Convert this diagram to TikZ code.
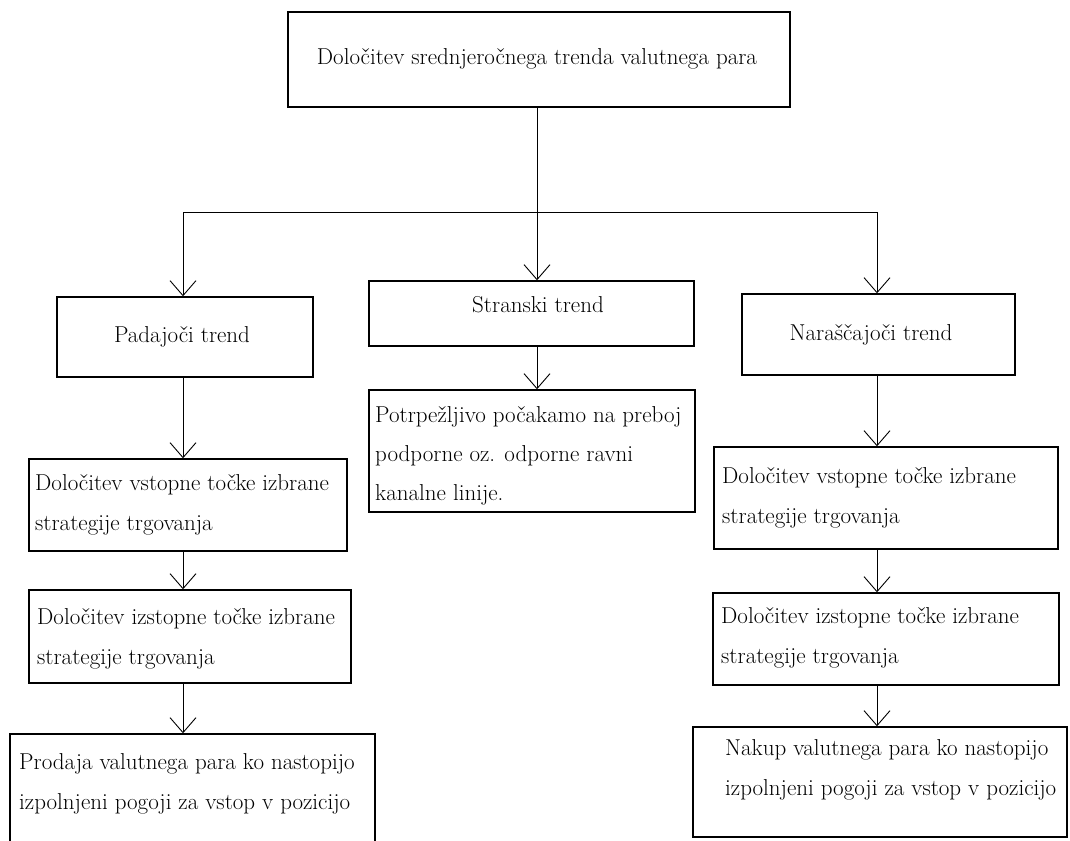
\documentclass[tikz,border=0pt]{standalone}
\usetikzlibrary{arrows.meta}
\begin{document}
\begin{tikzpicture}[x=1pt,y=-1pt,
  box/.style={draw, line width=1.4pt, rectangle, inner sep=0pt},
  conn/.style={line width=0.9pt},
  arr/.style={conn, -{Straight Barb[length=15pt,width=26pt,line width=0.9pt]}},
  txt/.style={inner sep=0pt, anchor=north west, align=left, font=\fontsize{23}{40}\selectfont},
  ctxt/.style={inner sep=0pt, anchor=base, font=\fontsize{23}{40}\selectfont}]
\useasboundingbox (0,0) rectangle (1070,840);
\clip (0,0) rectangle (1070,840);
% boxes
\node[box, minimum width=502pt, minimum height=95pt] (top) at (539,59.5) {};
\node[box, minimum width=256pt, minimum height=80pt] (pad) at (185,337) {};
\node[box, minimum width=325pt, minimum height=65pt] (str) at (531.5,313.5) {};
\node[box, minimum width=273pt, minimum height=81pt] (nar) at (878.5,334.5) {};
\node[box, minimum width=318pt, minimum height=92pt] (vstL) at (188,505) {};
\node[box, minimum width=322pt, minimum height=93pt] (izsL) at (190,636.5) {};
\node[box, minimum width=365pt, minimum height=116pt] (prod) at (192.5,792) {};
\node[box, minimum width=326pt, minimum height=122pt] (potr) at (532,451) {};
\node[box, minimum width=344pt, minimum height=102pt] (vstR) at (886,498) {};
\node[box, minimum width=346pt, minimum height=92pt] (izsR) at (886,639) {};
\node[box, minimum width=374pt, minimum height=110pt] (nak) at (880,782) {};
% texts
\node[ctxt] (t-top) at (537,65) {Določitev srednjeročnega trenda valutnega para};
\node[ctxt] (t-pad) at (182,342) {Padajoči trend};
\node[ctxt] (t-str) at (538,312) {Stranski trend};
\node[ctxt] (t-nar) at (871,340) {Naraščajoči trend};
\node[txt] (t-vstL) at (35,473) {\rule{0pt}{17pt}Določitev vstopne točke izbrane\\strategije trgovanja};
\node[txt] (t-izsL) at (37,607) {\rule{0pt}{17pt}Določitev izstopne točke izbrane\\strategije trgovanja};
\node[txt] (t-prod) at (19,752) {\rule{0pt}{17pt}Prodaja valutnega para ko nastopijo\\izpolnjeni pogoji za vstop v pozicijo};
\node[txt, font=\fontsize{23}{39}\selectfont] (t-potr) at (375,405) {\rule{0pt}{17pt}Potrpežljivo počakamo na preboj\\podporne oz. odporne ravni\\kanalne linije.};
\node[txt] (t-vstR) at (722,466) {\rule{0pt}{17pt}Določitev vstopne točke izbrane\\strategije trgovanja};
\node[txt] (t-izsR) at (721,606) {\rule{0pt}{17pt}Določitev izstopne točke izbrane\\strategije trgovanja};
\node[txt] (t-nak) at (725,738) {\rule{0pt}{17pt}Nakup valutnega para ko nastopijo\\izpolnjeni pogoji za vstop v pozicijo};
% connector helpers
\coordinate (colL) at (183,0);
\coordinate (colC) at (537,0);
\coordinate (colR) at (877,0);
\coordinate (brL) at (183,212);
\coordinate (brC) at (537,212);
\coordinate (brR) at (877,212);
% connectors
\draw[conn] (top.south -| colC) -- (brC);
\draw[conn] (brL) -- (brR);
\draw[arr] (brL) -- (pad.north -| brL);
\draw[arr] (brC) -- (str.north -| brC);
\draw[arr] (brR) -- (nar.north -| brR);
\draw[arr] (str.south -| colC) -- (potr.north -| colC);
\draw[arr] (pad.south -| colL) -- (vstL.north -| colL);
\draw[arr] (vstL.south -| colL) -- (izsL.north -| colL);
\draw[arr] (izsL.south -| colL) -- (prod.north -| colL);
\draw[arr] (nar.south -| colR) -- (vstR.north -| colR);
\draw[arr] (vstR.south -| colR) -- (izsR.north -| colR);
\draw[arr] (izsR.south -| colR) -- (nak.north -| colR);
\end{tikzpicture}
\end{document}
